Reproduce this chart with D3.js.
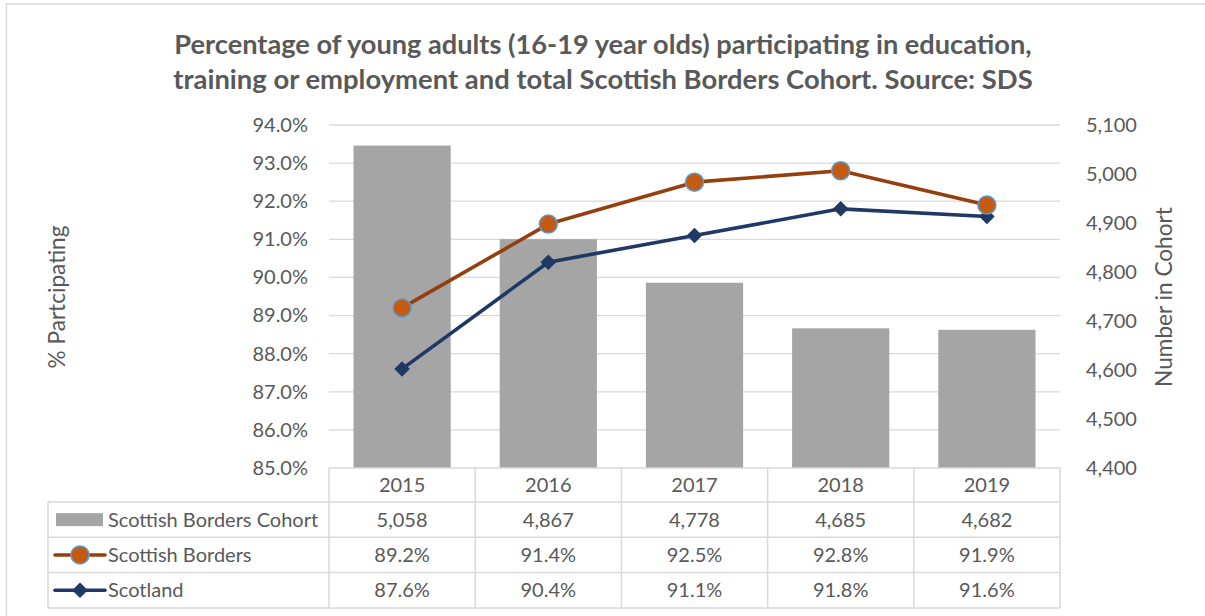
<!DOCTYPE html>
<html>
<head>
<meta charset="utf-8">
<script src="https://cdn.jsdelivr.net/npm/d3@7"></script>
<style>
  html, body { margin: 0; padding: 0; background: #fff; }
  svg { display: block; }
  text { font-family: Lato, "Open Sans", "Liberation Sans", sans-serif; fill: #595959; }
</style>
</head>
<body>
<svg id="chart" width="1205" height="616"></svg>
<script>
// Participation data, Scottish Borders vs Scotland, with cohort size
const years = ["2015", "2016", "2017", "2018", "2019"];
const cohort = [5058, 4867, 4778, 4685, 4682];
const bordersPct = [89.2, 91.4, 92.5, 92.8, 91.9];
const scotlandPct = [87.6, 90.4, 91.1, 91.8, 91.6];
const pctTicks = [85, 86, 87, 88, 89, 90, 91, 92, 93, 94];
const cohortTicks = [4400, 4500, 4600, 4700, 4800, 4900, 5000, 5100];
const titleLines = [
  "Percentage of young adults (16-19 year olds) participating in education,",
  "training or employment and total Scottish Borders Cohort. Source: SDS"
];
const seriesNames = ["Scottish Borders Cohort", "Scottish Borders", "Scotland"];

const W = 1205, H = 616;
const plot = { left: 329, right: 1060, top: 125, bottom: 468 };
const tableLeft = 48;
const rowH = 35.3;
const headerBottom = 502;
const labelSize = 20;

const colors = {
  bar: "#a5a5a5",
  grid: "#d9d9d9",
  borders: "#943f0e",
  bordersFill: "#c55a11",
  bordersStroke: "#5b9bd5",
  scotland: "#1f3864",
  text: "#595959"
};

const svg = d3.select("#chart");

// scale a text element's font size so that it spans the given width
function fitWidth(sel, target) {
  const node = sel.node();
  const fs = parseFloat(sel.attr("font-size"));
  const w = node.getComputedTextLength();
  if (w > 0) sel.attr("font-size", fs * target / w);
  return sel;
}

// outer chart frame
svg.append("path")
  .attr("d", `M6.5,${H} V4 H${W}`)
  .attr("fill", "none")
  .attr("stroke", "#d9d9d9")
  .attr("stroke-width", 1.5);

// title
const title = svg.append("g");
const titleWidths = [858, 860];
titleLines.forEach((t, i) => {
  const el = title.append("text")
    .attr("x", 603)
    .attr("y", 54 + i * 35)
    .attr("text-anchor", "middle")
    .attr("font-weight", "bold")
    .attr("font-size", 23)
    .text(t);
  fitWidth(el, titleWidths[i]);
});

// scales
const x = d3.scaleBand().domain(years).range([plot.left, plot.right]).paddingInner(0).paddingOuter(0);
const yPct = d3.scaleLinear().domain([85, 94]).range([plot.bottom, plot.top]);
const yCohort = d3.scaleLinear().domain([4400, 5100]).range([plot.bottom, plot.top]);

// gridlines
svg.append("g")
  .selectAll("line")
  .data(pctTicks.slice(1))
  .join("line")
  .attr("x1", plot.left).attr("x2", plot.right)
  .attr("y1", d => yPct(d)).attr("y2", d => yPct(d))
  .attr("stroke", colors.grid)
  .attr("stroke-width", 1.3);

// left axis
const leftAxis = svg.append("g")
  .attr("transform", `translate(${plot.left},0)`)
  .call(d3.axisLeft(yPct).tickValues(pctTicks).tickFormat(d => d3.format(".1f")(d) + "%").tickSize(0).tickPadding(21));
leftAxis.select(".domain").remove();
leftAxis.selectAll("text").attr("font-size", labelSize).attr("fill", colors.text)
  .style("font-family", "Lato, sans-serif");

// right axis
const rightAxis = svg.append("g")
  .attr("transform", `translate(${plot.right},0)`)
  .call(d3.axisRight(yCohort).tickValues(cohortTicks).tickFormat(d3.format(",")).tickSize(0).tickPadding(26));
rightAxis.select(".domain").remove();
rightAxis.selectAll("text").attr("font-size", labelSize).attr("fill", colors.text)
  .style("font-family", "Lato, sans-serif");

// axis titles
const leftTitle = svg.append("text")
  .attr("transform", `translate(65,297) rotate(-90)`)
  .attr("text-anchor", "middle")
  .attr("font-size", 18)
  .text("% Partcipating");
fitWidth(leftTitle, 143);
const rightTitle = svg.append("text")
  .attr("transform", `translate(1172,297) rotate(-90)`)
  .attr("text-anchor", "middle")
  .attr("font-size", 18)
  .text("Number in Cohort");
fitWidth(rightTitle, 180);

// cohort bars
const barW = x.bandwidth() * 0.665;
svg.append("g")
  .selectAll("rect")
  .data(cohort)
  .join("rect")
  .attr("x", (d, i) => x(years[i]) + (x.bandwidth() - barW) / 2)
  .attr("width", barW)
  .attr("y", d => yCohort(d))
  .attr("height", d => plot.bottom - yCohort(d))
  .attr("fill", colors.bar);

const cx = i => x(years[i]) + x.bandwidth() / 2;

// series lines
const linePct = d3.line().x((d, i) => cx(i)).y(d => yPct(d));
svg.append("path")
  .datum(scotlandPct)
  .attr("d", linePct)
  .attr("fill", "none")
  .attr("stroke", colors.scotland)
  .attr("stroke-width", 3.6)
  .attr("stroke-linejoin", "round");
svg.append("path")
  .datum(bordersPct)
  .attr("d", linePct)
  .attr("fill", "none")
  .attr("stroke", colors.borders)
  .attr("stroke-width", 3.6)
  .attr("stroke-linejoin", "round");

const diamond = d3.symbol().type(d3.symbolSquare).size(100);
function drawDiamond(g, px, py) {
  g.append("path")
    .attr("d", diamond())
    .attr("transform", `translate(${px},${py}) rotate(45)`)
    .attr("fill", colors.scotland)
    .attr("stroke", colors.scotland)
    .attr("stroke-width", 1);
}
function drawCircle(g, px, py) {
  g.append("circle")
    .attr("cx", px).attr("cy", py).attr("r", 9)
    .attr("fill", colors.bordersFill)
    .attr("stroke", colors.bordersStroke)
    .attr("stroke-width", 1.5);
}

const markers = svg.append("g");
scotlandPct.forEach((d, i) => drawDiamond(markers, cx(i), yPct(d)));
bordersPct.forEach((d, i) => drawCircle(markers, cx(i), yPct(d)));

// data table
const table = svg.append("g");
function hline(x1, x2, y) {
  table.append("line").attr("x1", x1).attr("x2", x2).attr("y1", y).attr("y2", y)
    .attr("stroke", colors.grid).attr("stroke-width", 1.5);
}
function vline(xp, y1, y2) {
  table.append("line").attr("x1", xp).attr("x2", xp).attr("y1", y1).attr("y2", y2)
    .attr("stroke", colors.grid).attr("stroke-width", 1.5);
}
const rowYs = [headerBottom, headerBottom + rowH, headerBottom + 2 * rowH, headerBottom + 3 * rowH];
hline(plot.left, plot.right, plot.bottom);
rowYs.forEach(yv => hline(tableLeft, plot.right, yv));
vline(tableLeft, headerBottom, rowYs[3]);
years.forEach(yr => vline(x(yr), plot.bottom, rowYs[3]));
vline(plot.right, plot.bottom, rowYs[3]);

// year labels
years.forEach((yr, i) => {
  table.append("text")
    .attr("x", cx(i)).attr("y", (plot.bottom + headerBottom) / 2 + 7)
    .attr("text-anchor", "middle").attr("font-size", labelSize)
    .text(yr);
});

const rowsData = [
  cohort.map(d3.format(",")),
  bordersPct.map(v => d3.format(".1f")(v) + "%"),
  scotlandPct.map(v => d3.format(".1f")(v) + "%")
];
rowsData.forEach((vals, r) => {
  const yMid = rowYs[r] + rowH / 2;
  vals.forEach((v, i) => {
    table.append("text")
      .attr("x", cx(i)).attr("y", yMid + 7)
      .attr("text-anchor", "middle").attr("font-size", labelSize)
      .text(v);
  });
  table.append("text")
    .attr("x", 108).attr("y", yMid + 7)
    .attr("font-size", labelSize)
    .text(seriesNames[r]);
});

// legend keys
const key0 = rowYs[0] + rowH / 2;
table.append("rect").attr("x", 56).attr("y", key0 - 6.5).attr("width", 47).attr("height", 13).attr("fill", colors.bar);
const key1 = rowYs[1] + rowH / 2;
table.append("line").attr("x1", 55).attr("x2", 105).attr("y1", key1).attr("y2", key1)
  .attr("stroke", colors.borders).attr("stroke-width", 3.6).attr("stroke-linecap", "round");
drawCircle(table, 80, key1);
const key2 = rowYs[2] + rowH / 2;
table.append("line").attr("x1", 55).attr("x2", 105).attr("y1", key2).attr("y2", key2)
  .attr("stroke", colors.scotland).attr("stroke-width", 3.6).attr("stroke-linecap", "round");
drawDiamond(table, 80, key2);
</script>
</body>
</html>
